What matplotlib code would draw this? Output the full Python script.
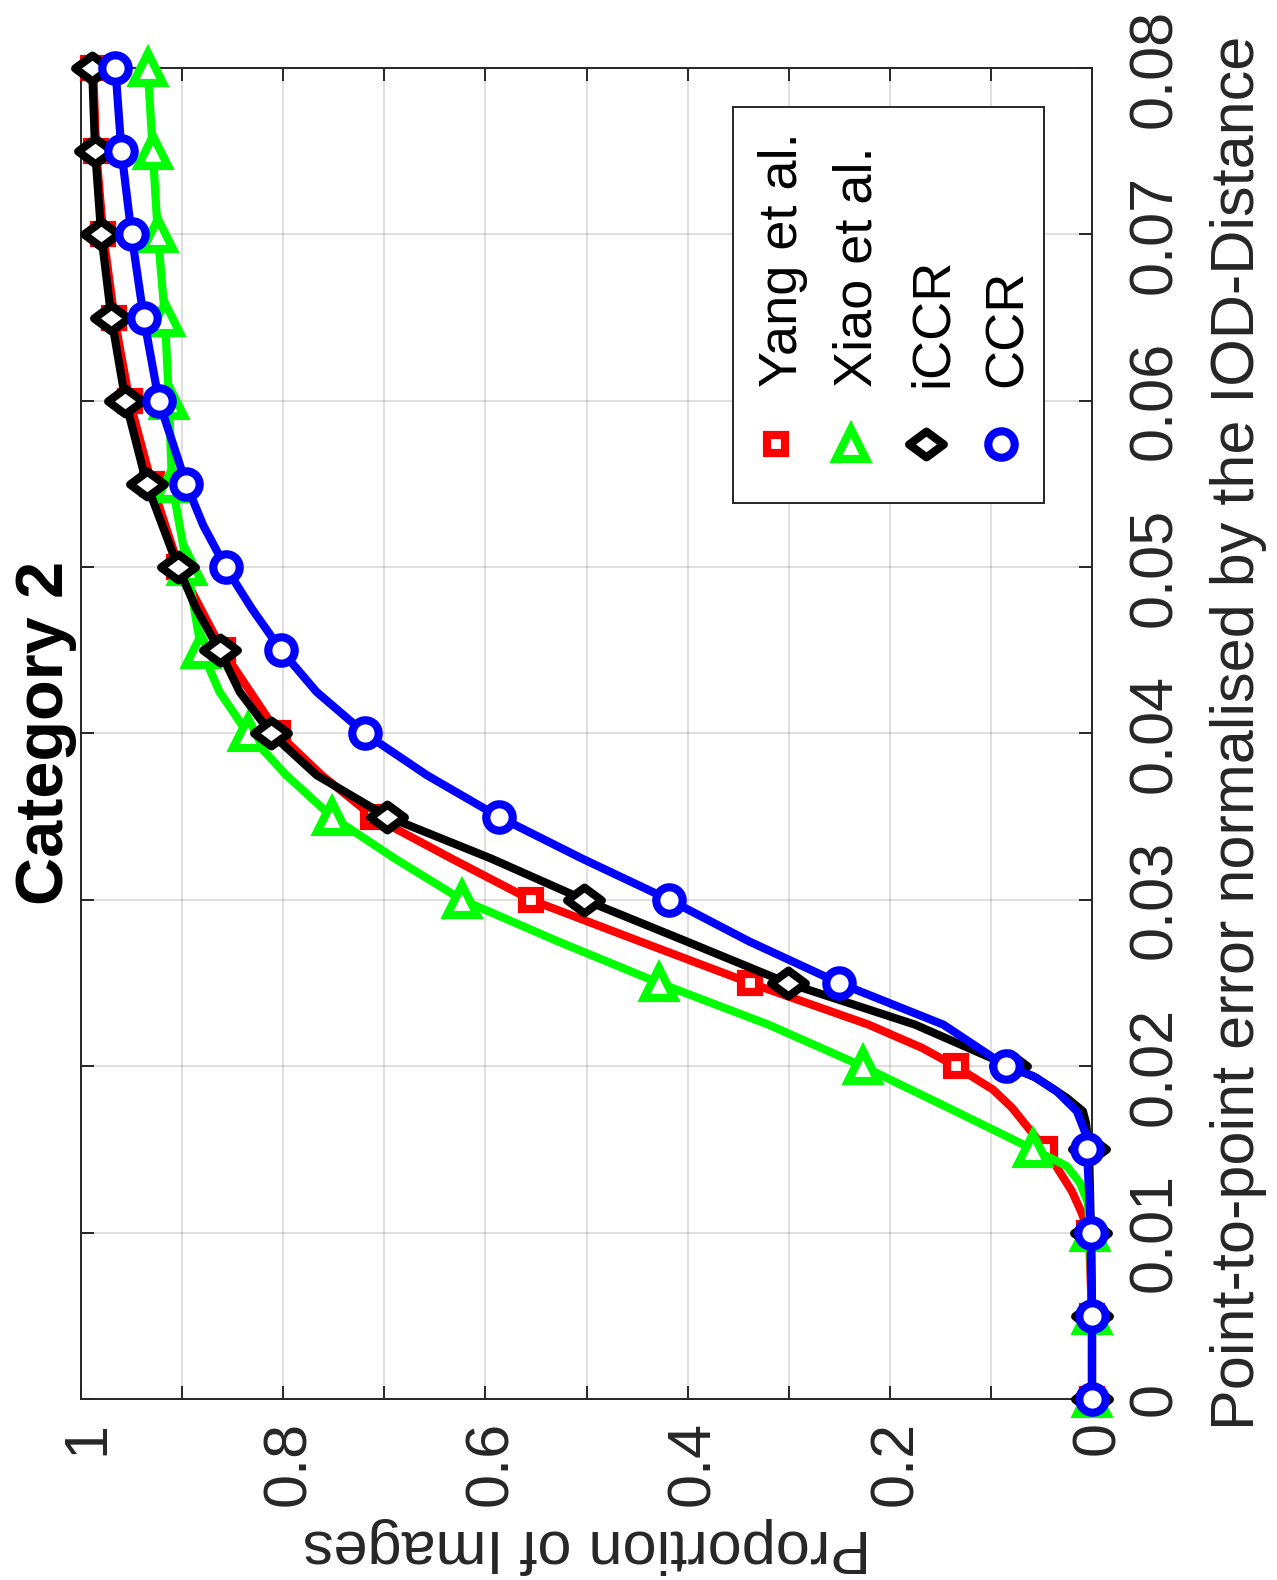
import matplotlib
matplotlib.use("Agg")
import matplotlib.pyplot as plt
from matplotlib.transforms import Affine2D
from matplotlib.patches import Rectangle
from matplotlib.lines import Line2D
from matplotlib.path import Path
from matplotlib.markers import MarkerStyle

# ---------------- data ----------------
series_names = ["Yang et al.", "Xiao et al.", "iCCR", "CCR"]
series_colors = [(1, 0, 0), (0, 1, 0), (0, 0, 0), (0, 0, 1)]

marker_err = [0, 0.005, 0.01, 0.015, 0.02, 0.025, 0.03, 0.035, 0.04,
              0.045, 0.05, 0.055, 0.06, 0.065, 0.07, 0.075, 0.08]
yang_mk = [0, 0, 0.003, 0.046, 0.135, 0.338, 0.555, 0.711, 0.805, 0.860,
           0.903, 0.930, 0.952, 0.967, 0.978, 0.985, 0.988]
xiao_mk = [0, 0, 0.002, 0.058, 0.227, 0.428, 0.623, 0.752, 0.835, 0.881,
           0.895, 0.910, 0.913, 0.917, 0.924, 0.929, 0.934]
iccr_mk = [0, 0, 0.001, 0.003, 0.081, 0.301, 0.502, 0.697, 0.812, 0.863,
           0.904, 0.935, 0.956, 0.970, 0.980, 0.986, 0.989]
ccr_mk = [0, 0, 0.001, 0.005, 0.085, 0.250, 0.418, 0.587, 0.719, 0.802,
          0.857, 0.896, 0.923, 0.938, 0.950, 0.960, 0.966]

# curves (read at extra points along each line)
yang_err = [0, 0.005, 0.01, 0.0113, 0.0125, 0.015, 0.0175, 0.0186, 0.02, 0.0211,
            0.0225, 0.025, 0.0275, 0.03, 0.0325, 0.035, 0.0375, 0.04, 0.045, 0.05,
            0.055, 0.06, 0.065, 0.07, 0.075, 0.08]
yang_prop = [0, 0, 0.003, 0.011, 0.020, 0.046, 0.079, 0.098, 0.135, 0.168,
             0.221, 0.338, 0.447, 0.555, 0.634, 0.711, 0.762, 0.805, 0.860, 0.903,
             0.930, 0.952, 0.967, 0.978, 0.985, 0.988]

xiao_err = [0, 0.005, 0.01, 0.0118, 0.013, 0.014, 0.015, 0.0175, 0.02, 0.0225,
            0.025, 0.0275, 0.03, 0.0325, 0.035, 0.0375, 0.04, 0.0425, 0.045, 0.05,
            0.055, 0.06, 0.065, 0.07, 0.075, 0.08]
xiao_prop = [0, 0, 0.002, 0.004, 0.012, 0.025, 0.058, 0.142, 0.227, 0.320,
             0.428, 0.528, 0.623, 0.690, 0.752, 0.797, 0.835, 0.863, 0.881, 0.895,
             0.910, 0.913, 0.917, 0.924, 0.929, 0.934]

iccr_err = [0, 0.005, 0.01, 0.015, 0.0166, 0.0173, 0.0181, 0.0193, 0.02, 0.0225,
            0.025, 0.0275, 0.03, 0.0325, 0.035, 0.0375, 0.04, 0.0425, 0.045, 0.0475,
            0.05, 0.055, 0.06, 0.065, 0.07, 0.075, 0.08]
iccr_prop = [0, 0, 0.001, 0.003, 0.006, 0.009, 0.025, 0.055, 0.081, 0.175,
             0.301, 0.401, 0.502, 0.595, 0.697, 0.767, 0.812, 0.843, 0.863, 0.886,
             0.904, 0.935, 0.956, 0.970, 0.980, 0.986, 0.989]

ccr_err = [0, 0.005, 0.01, 0.015, 0.0159, 0.0173, 0.0185, 0.0194, 0.02, 0.0225,
           0.025, 0.0275, 0.03, 0.0325, 0.035, 0.0375, 0.04, 0.0425, 0.045, 0.0475,
           0.05, 0.0525, 0.055, 0.06, 0.065, 0.07, 0.075, 0.08]
ccr_prop = [0, 0, 0.001, 0.005, 0.006, 0.015, 0.035, 0.058, 0.085, 0.147,
            0.250, 0.339, 0.418, 0.505, 0.587, 0.658, 0.719, 0.767, 0.802, 0.831,
            0.857, 0.879, 0.896, 0.923, 0.938, 0.950, 0.960, 0.966]

prop_ticks = [0, 0.1, 0.2, 0.3, 0.4, 0.5, 0.6, 0.7, 0.8, 0.9, 1.0]
prop_ticklabels = ["0", "", "0.2", "", "0.4", "", "0.6", "", "0.8", "", "1"]
err_ticks = [0, 0.01, 0.02, 0.03, 0.04, 0.05, 0.06, 0.07, 0.08]
err_ticklabels = ["0", "0.01", "0.02", "0.03", "0.04", "0.05", "0.06", "0.07", "0.08"]

title_text = "Category 2"
err_label = "Point-to-point error normalised by the IOD-Distance"
prop_label = "Proportion of Images"

# ---------------- figure ----------------
W, H = 1277, 1580
FONT = "Liberation Sans"
plt.rcParams["font.family"] = [FONT, "DejaVu Sans"]
fig = plt.figure(figsize=(W / 100, H / 100), dpi=100)
PX = Affine2D().scale(1, -1).translate(0, H)  # pixel coords, origin top-left

L, R, T, B = 81, 1092, 68, 1399
ax = fig.add_axes([L / W, 1 - B / H, (R - L) / W, (B - T) / H])
ax.set_xlim(1, 0)
ax.set_ylim(0, 0.08)

spine_c = (0.15, 0.15, 0.15)
for s in ax.spines.values():
    s.set_color(spine_c)
    s.set_linewidth(1.4)
    s.set_zorder(2.5)

ax.set_xticks(prop_ticks)
ax.set_xticklabels(prop_ticklabels)
ax.set_yticks(err_ticks)
ax.set_yticklabels(err_ticklabels)
ax.tick_params(axis="both", direction="in", length=9.4, width=1.4, color=spine_c,
               labelsize=44, labelcolor=(0.15, 0.15, 0.15))
ax.tick_params(axis="x", top=True, bottom=True, pad=16)
ax.tick_params(axis="y", left=True, right=True, labelleft=False, labelright=True, pad=57)

for t in ax.get_xticklabels():
    t.set_rotation(90)
    t.set_rotation_mode("anchor")
    t.set_ha("right")
    t.set_va("center_baseline")
for t in ax.get_yticklabels():
    t.set_rotation(90)
    t.set_rotation_mode("anchor")
    t.set_ha("center")
    t.set_va("baseline")

ax.grid(True, color=spine_c, alpha=0.15, linewidth=1.4)
ax.set_axisbelow(True)

diamond = MarkerStyle(Path([(-1, 0), (0, 0.74), (1, 0), (0, -0.74), (-1, 0)],
                           [Path.MOVETO, Path.LINETO, Path.LINETO, Path.LINETO, Path.CLOSEPOLY]),
                      joinstyle="miter")
markers = ["s", "^", diamond, "o"]
msizes = [13.5, 21, 25, 19]

lines = [(yang_prop, yang_err), (xiao_prop, xiao_err), (iccr_prop, iccr_err), (ccr_prop, ccr_err)]
mks = [yang_mk, xiao_mk, iccr_mk, ccr_mk]
LW = 5.9
for i in range(4):
    c = series_colors[i]
    ax.plot(lines[i][0], lines[i][1], color=c, lw=LW, zorder=3 + 2 * i, clip_on=False,
            solid_joinstyle="round", solid_capstyle="round")
    ax.plot(mks[i], marker_err, linestyle="none", marker=markers[i], ms=msizes[i],
            mfc="white", mec=c, mew=LW, zorder=4 + 2 * i, clip_on=False)

# ---------------- texts ----------------
fig.text(63, 733, title_text, transform=PX, rotation=90, rotation_mode="anchor",
         ha="center", va="baseline", fontsize=48, fontweight="bold", color="black")
fig.text(1254, 733, err_label, transform=PX, rotation=90, rotation_mode="anchor",
         ha="center", va="baseline", fontsize=44, color=(0.15, 0.15, 0.15))
fig.text(587, 1530, prop_label, transform=PX, rotation=180, rotation_mode="anchor",
         ha="center", va="baseline", fontsize=44, color=(0.15, 0.15, 0.15))

# ---------------- legend (rotated) ----------------
fig.patches.append(Rectangle((733, 107), 311, 396, transform=PX, facecolor="white",
                             edgecolor=spine_c, linewidth=1.4, zorder=20))
leg_x = [776, 851, 926, 1001]
for i in range(4):
    fig.lines.append(Line2D([leg_x[i]], [444], transform=PX, linestyle="none",
                            marker=markers[i], ms=msizes[i], mfc="white",
                            mec=series_colors[i], mew=LW, zorder=21))
    fig.text(leg_x[i] + 21, 387, series_names[i], transform=PX, rotation=90,
             rotation_mode="anchor", ha="left", va="baseline", fontsize=39,
             color="black", zorder=22)

fig.savefig("out.png", dpi=100)
